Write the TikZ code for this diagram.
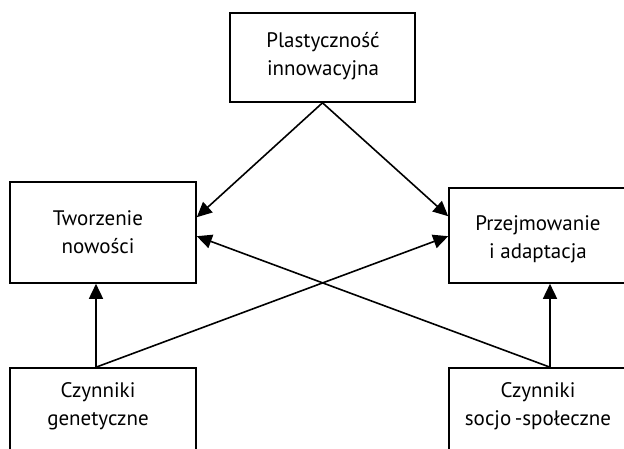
\documentclass[tikz,border=0pt]{standalone}
\usepackage{fontspec}
\setmainfont{PT Sans}
\usetikzlibrary{arrows.meta}
\begin{document}
\begin{tikzpicture}[x=1pt,y=-1pt,
  box/.style={draw, line width=1.6pt, rectangle, inner sep=0pt},
  txt/.style={align=center, inner sep=0pt, font=\fontsize{21}{28}\selectfont},
  arr/.style={line width=1.6pt, -{Triangle[length=15pt,width=14pt]}}]
\useasboundingbox (0,0) rectangle (624,449);
\clip (0,0) rectangle (624,449);
\node[box, minimum width=185pt, minimum height=89pt] (pl) at (322.5,57.5) {};
\node[txt] (pltxt) at (323,56.5) {Plastyczność\\innowacyjna};
\node[box, minimum width=186pt, minimum height=101pt] (tw) at (103,232.5) {};
\node[txt] (twtxt) at (98,232.5) {Tworzenie\\nowości};
\node[box, minimum width=186pt, minimum height=95pt] (pa) at (542,235.5) {};
\node[txt] (patxt) at (538,239) {Przejmowanie\\i adaptacja};
\node[box, minimum width=186pt, minimum height=100pt] (gen) at (103,418) {};
\node[txt] (gentxt) at (98,406) {Czynniki\\genetyczne};
\node[box, minimum width=186pt, minimum height=100pt] (soc) at (542,418) {};
\node[txt] (soctxt) at (538,406) {Czynniki\\socjo\,-społeczne};
\draw[arr] (pl.south) -- ([yshift=-36]tw.north east);
\draw[arr] (pl.south) -- ([yshift=-29]pa.north west);
\draw[arr] ([xshift=-7]gen.north) -- ([xshift=-7]tw.south);
\draw[arr] ([xshift=8]soc.north) -- ([xshift=8]pa.south);
\draw[arr] ([xshift=-7]gen.north) -- ([yshift=-49]pa.north west);
\draw[arr] ([xshift=8]soc.north) -- ([yshift=-55]tw.north east);
\end{tikzpicture}
\end{document}
